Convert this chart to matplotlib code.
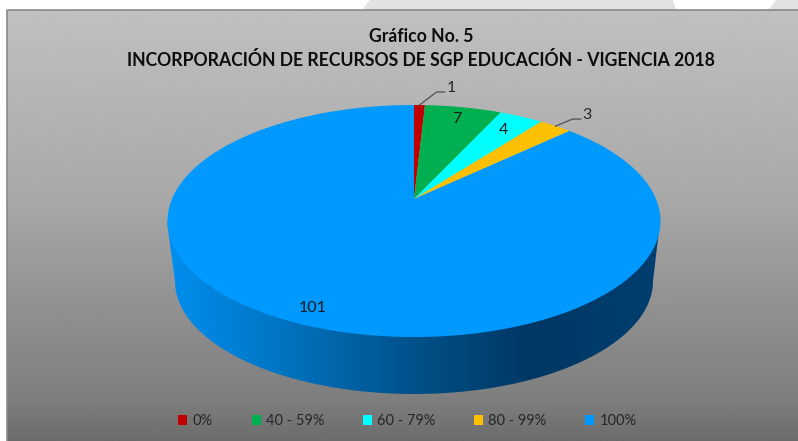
import numpy as np
import matplotlib
matplotlib.use("Agg")
import matplotlib.pyplot as plt
from matplotlib.colors import LinearSegmentedColormap
from matplotlib.patches import Polygon, Rectangle

categories = ["0%", "40 - 59%", "60 - 79%", "80 - 99%", "100%"]
values = [1, 7, 4, 3, 101]
colors = ["#c00000", "#00b050", "#00ffff", "#ffc000", "#0099ff"]
title_lines = ["Gráfico No. 5", "INCORPORACIÓN DE RECURSOS DE SGP EDUCACIÓN - VIGENCIA 2018"]

plt.rcParams["font.family"] = ["Lato", "DejaVu Sans"]

W, H = 798, 441

# tilted pie: circle seen in perspective, apex is not the middle of the ellipse
CX, CY = 414, 199
A, B, K = 242, 111.83, 0.1897


def project(theta, r=1.0):
    x = r * np.sin(theta)
    y = r * np.cos(theta)
    d = 1 + K * y
    return CX + A * x / d, CY - B * y / d


def wedge(t0, t1):
    t = np.linspace(t0, t1, 300)
    x, y = project(t)
    return np.column_stack([np.r_[CX, x], np.r_[CY, y]])


fig = plt.figure(figsize=(W / 100, H / 100), dpi=100, facecolor="white")
ax = fig.add_axes([0, 0, 1, 1])
ax.axis("off")

# light shape behind the top of the chart
ax.add_patch(Polygon([(362, 10), (370, 0), (673, 0), (676, 10)], fc="#e2e2e2", ec="none", zorder=0))
ax.add_patch(Polygon([(768, 10), (776, 0), (798, 0), (798, 10)], fc="#e2e2e2", ec="none", zorder=0))

# chart area
yy = np.arange(10, 442)
gray = np.interp(yy, [10, 200, 330, 400, 441], [192, 168, 140, 126, 108]) / 255
ax.imshow(gray[:, None], cmap="gray", vmin=0, vmax=1, extent=[7, W, H, 10], aspect="auto", zorder=1)
ax.plot([7, 7, W], [H, 10, 10], color="#8a8a8a", lw=1.2, zorder=2)

# side wall of the pie
t = np.linspace(np.pi / 2, 3 * np.pi / 2, 300)
low_x = 414 + 239 * np.sin(t)
low_y = 281 - 113 * np.cos(t)
wall = Polygon(np.column_stack([np.r_[660, low_x, 167], np.r_[222, low_y, 222]]), fc="none", ec="none", zorder=3)
ax.add_patch(wall)
wall_cmap = LinearSegmentedColormap.from_list(
    "wall",
    [(0, "#008ff0"), (0.2, "#0078c8"), (0.47, "#00558f"), (0.74, "#003764"), (1, "#003f70")],
)
im = ax.imshow(np.linspace(0, 1, 500)[None, :], cmap=wall_cmap, extent=[167, 660, 400, 215], aspect="auto", zorder=3)
im.set_clip_path(wall)

# top face
edges = np.r_[0, np.cumsum(values)] / sum(values) * 2 * np.pi
mids = (edges[:-1] + edges[1:]) / 2
for i in range(len(values)):
    ax.add_patch(Polygon(wedge(edges[i], edges[i + 1]), fc=colors[i], ec="none", zorder=4))

# labels inside the slices
for i, r in [(1, 0.85), (2, 0.81), (4, 0.895)]:
    x, y = project(mids[i], r)
    ax.text(x, y, str(values[i]), fontsize=11.5, color="#1a1a1a", ha="center", va="center", zorder=6)

# labels with leader lines
for i, dx, dy in [(0, 17, -13), (3, 17, -7)]:
    x, y = project(mids[i])
    ax.plot([x, x + dx, x + dx + 8], [y, y + dy, y + dy], color="#595959", lw=1, zorder=5)
    ax.text(x + dx + 10, y + dy - 4, str(values[i]), fontsize=11.5, color="#262626", ha="left", va="center", zorder=6)

# title
ax.text(421, 37, title_lines[0], fontsize=12.7, fontweight="bold", color="#0d0d0d", ha="center", va="center", zorder=6)
ax.text(421, 60, title_lines[1], fontsize=12.7, fontweight="bold", color="#0d0d0d", ha="center", va="center", zorder=6)

# legend
handles = [Rectangle((0, 0), 1, 1, fc=c, ec="none") for c in colors]
ax.legend(handles, categories, ncol=5, loc="center", bbox_to_anchor=(407.5 / W, 1 - 421 / H),
          frameon=False, fontsize=10.5, labelcolor="#262626", handlelength=0.62, handleheight=0.62,
          handletextpad=0.34, columnspacing=2.67, borderpad=0, borderaxespad=0)

ax.set_xlim(0, W)
ax.set_ylim(H, 0)
fig.savefig("out.png", dpi=100)
